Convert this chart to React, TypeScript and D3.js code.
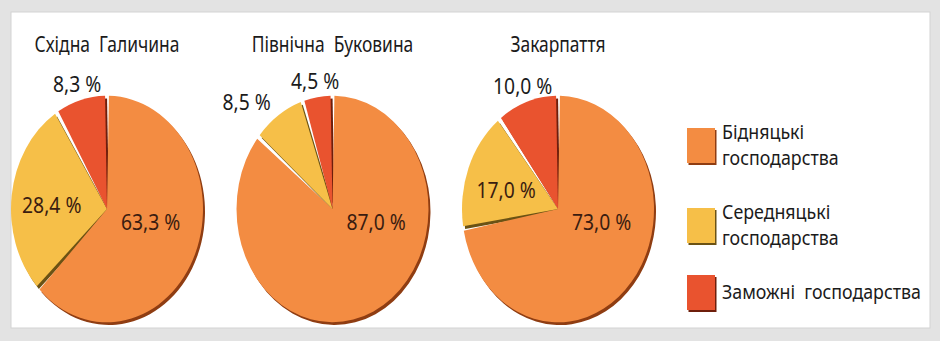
import React, { useRef, useEffect } from 'react';
import * as d3 from 'd3';

const regions = ['Східна  Галичина', 'Північна  Буковина', 'Закарпаття'];
const categories = ['Бідняцькі господарства', 'Середняцькі господарства', 'Заможні господарства'];
const poorShares = [63.3, 87.0, 73.0];
const middleShares = [28.4, 8.5, 17.0];
const richShares = [8.3, 4.5, 10.0];
const legendLines = [['Бідняцькі', 'господарства'], ['Середняцькі', 'господарства'], ['Заможні  господарства']];

const WIDTH = 940;
const HEIGHT = 341;
const FONT = '"Noto Sans", "Open Sans", sans-serif';

// no condensed face installed, so narrow the glyphs by hand
const putText = (parent, x, y, str, size, narrow, fill) =>
  parent.append('text')
    .attr('transform', `translate(${x},${y}) scale(${narrow},1)`)
    .style('white-space', 'pre')
    .style('font-family', FONT)
    .style('font-size', size + 'px')
    .attr('fill', fill)
    .text(str);

const App = () => {
  const svgRef = useRef<SVGSVGElement>(null);

  useEffect(() => {
    document.body.style.margin = '0';
    const svg = d3.select(svgRef.current);
    svg.selectAll('*').remove();

    // grey page + white card
    svg.append('rect').attr('width', WIDTH).attr('height', HEIGHT).attr('fill', '#e3e3e3');
    svg.append('rect')
      .attr('x', 11).attr('y', 12).attr('width', 919).attr('height', 316)
      .attr('fill', '#fff').attr('stroke', '#d3d3d3');

    const color = d3.scaleOrdinal<string, string>().domain(categories).range(['#f38c42', '#f6bf48', '#e9532f']);
    const shade = d3.scaleOrdinal<string, string>().domain(categories).range(['#8f3d12', '#6b5214', '#6e1e0b']);

    const x = d3.scalePoint<string>().domain(regions).range([107, 558]);
    const cy = 209;
    const radius = 96;
    const squash = 1.18;

    const pie = d3.pie<any>().sort(null).value((d) => d.value).padAngle(0.04);
    const arc = d3.arc<any>().innerRadius(0).outerRadius(radius);
    const fmt = (v: number) => d3.format('.1f')(v).replace('.', ',') + ' %';
    const series = [poorShares, middleShares, richShares];

    regions.forEach((region, i) => {
      const rows = categories.map((c, k) => ({ category: c, value: series[k][i] }));
      const slices = pie(rows);
      const g = svg.append('g').attr('transform', `translate(${x(region)},${cy})`);
      const disc = g.append('g').attr('transform', `scale(1,${squash})`);

      // dark rim underneath gives the slices their raised look
      disc.selectAll('path.shadow')
        .data(slices)
        .enter()
        .append('path')
        .attr('class', 'shadow')
        .attr('d', arc)
        .attr('transform', 'translate(2,2.3)')
        .attr('fill', (d) => shade(d.data.category));

      disc.selectAll('path.slice')
        .data(slices)
        .enter()
        .append('path')
        .attr('class', 'slice')
        .attr('d', arc)
        .attr('fill', (d) => color(d.data.category));

      putText(svg, x(region), 52, region, 21, 0.83, '#1b1b1b').attr('text-anchor', 'middle');

      slices.forEach((d, k) => {
        const mid = (d.startAngle + d.endAngle) / 2;
        let a = mid;
        let r = radius * 0.58;
        let anchor = 'middle';
        let inside = true;
        let dy = 0.6;
        if (k === 0) {
          a = (105 * Math.PI) / 180;
          r = radius * 0.47;
          dy = 0.35;
        } else if (d.data.value <= 10) {
          r = radius * 1.14;
          inside = false;
          dy = 0.35;
          anchor = mid < 2 * Math.PI - Math.PI / 6 ? 'end' : 'middle';
        }
        putText(g, Math.sin(a) * r, -Math.cos(a) * r * squash, fmt(d.data.value), 21, 0.92, inside ? '#3a1c10' : '#1b1b1b')
          .attr('dy', dy + 'em')
          .attr('text-anchor', anchor);
      });
    });

    // legend
    const legend = svg.append('g');
    let baseline = 139;
    legendLines.forEach((lines, k) => {
      const first = baseline;
      const last = first + (lines.length - 1) * 26;
      const middle = (first + last) / 2 - 7;
      legend.append('rect')
        .attr('x', 688.5).attr('y', middle - 17 + 2)
        .attr('width', 28).attr('height', 35)
        .attr('fill', shade(categories[k]));
      legend.append('rect')
        .attr('x', 687).attr('y', middle - 17)
        .attr('width', 28).attr('height', 35)
        .attr('fill', color(categories[k]));
      lines.forEach((line, j) => {
        putText(legend, 722, first + j * 26, line, 20, 0.89, '#1b1b1b');
      });
      baseline = last + 54;
    });
  }, []);

  return <svg ref={svgRef} width={WIDTH} height={HEIGHT} style={{ display: 'block' }}></svg>;
};

export default App;
